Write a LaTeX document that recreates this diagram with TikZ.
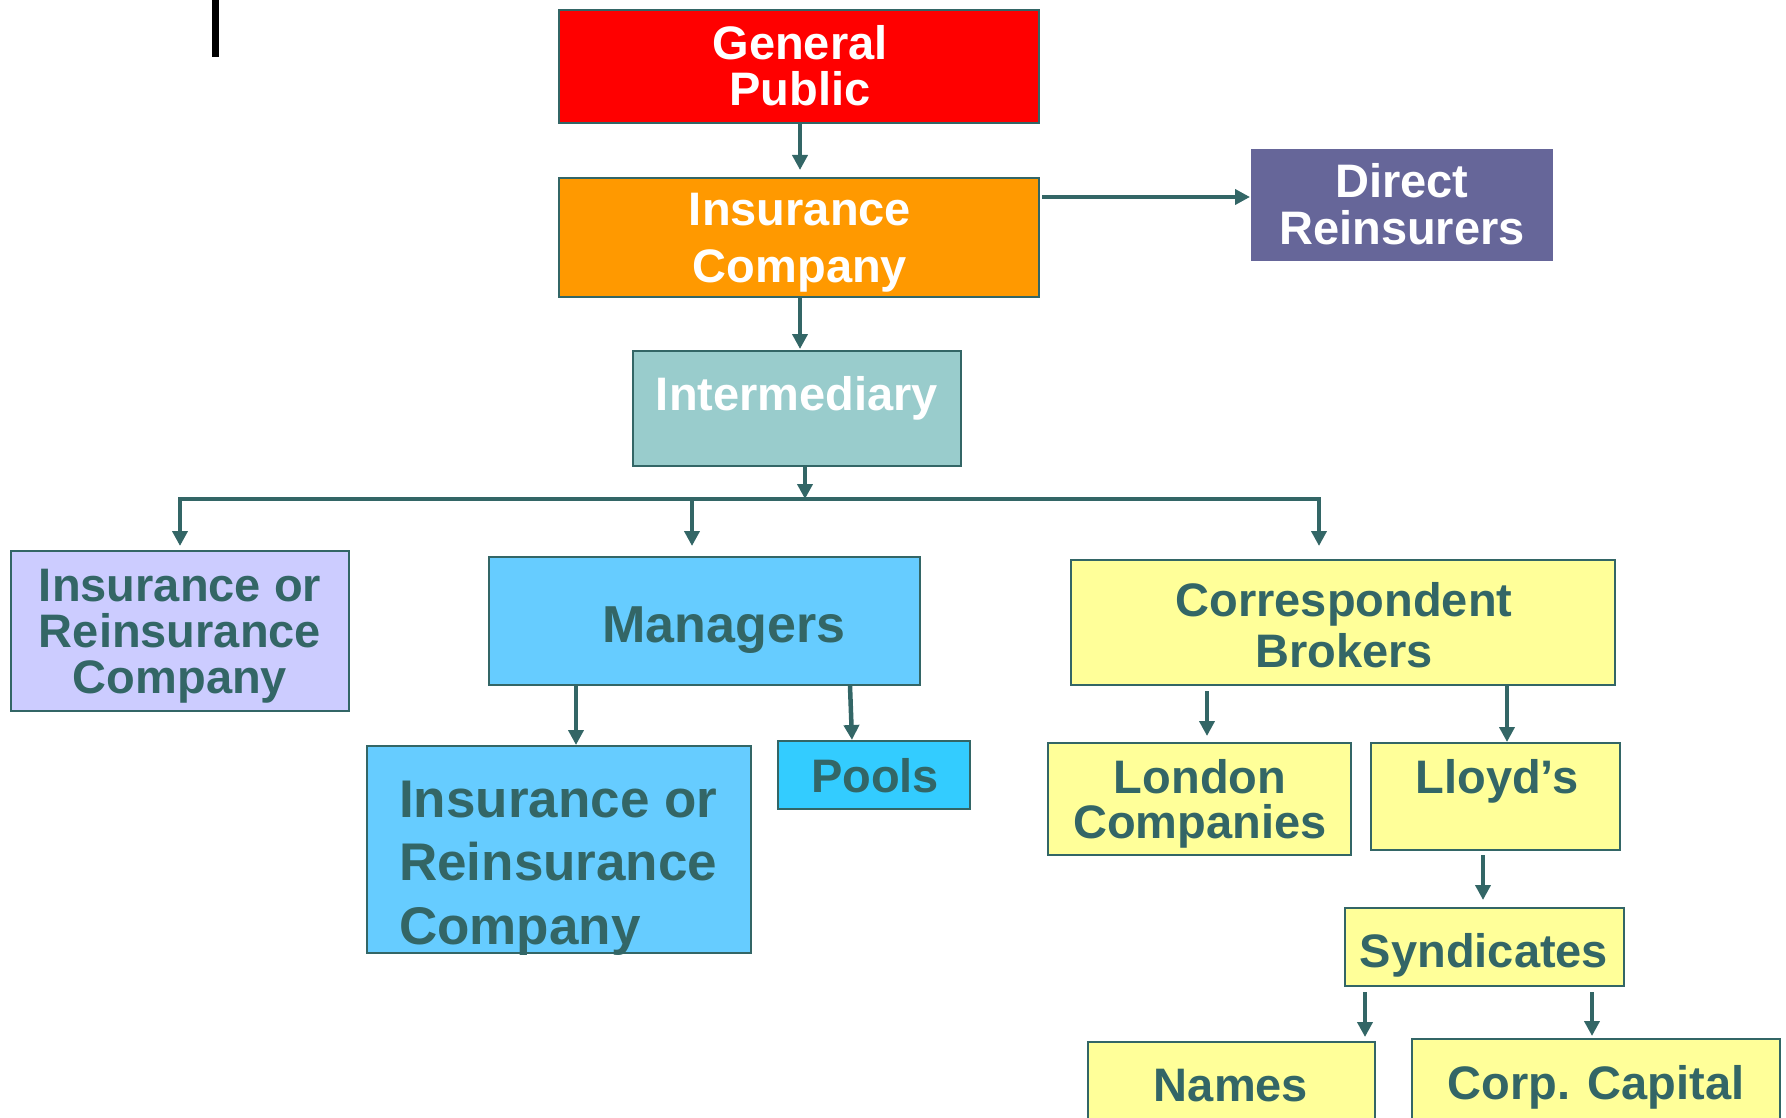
\documentclass[tikz,border=0pt]{standalone}
\usepackage{fontspec}
\setmainfont{Liberation Sans}
\usetikzlibrary{arrows.meta}
\definecolor{tealc}{HTML}{336666}
\definecolor{gpred}{HTML}{FF0000}
\definecolor{icorange}{HTML}{FF9900}
\definecolor{drpurple}{HTML}{666699}
\definecolor{imteal}{HTML}{99CCCC}
\definecolor{lclav}{HTML}{CCCCFF}
\definecolor{mgblue}{HTML}{66CCFF}
\definecolor{plblue}{HTML}{33CCFF}
\definecolor{yel}{HTML}{FFFF99}
\tikzset{
  box/.style={draw=tealc, line width=2pt, inner sep=0pt, rectangle},
  txt/.style={inner sep=0pt, align=center, anchor=base, text=tealc},
  wtxt/.style={txt, text=white},
  fs/.style={font=\fontsize{47pt}{#1}\selectfont\bfseries},
  arr/.style={draw=tealc, line width=4.5pt, -{Triangle[width=15pt,length=15pt]}},
  bus/.style={draw=tealc, line width=4.5pt},
}
\begin{document}
\begin{tikzpicture}[x=1pt,y=-1pt]
\useasboundingbox (0,0) rectangle (1786,1118);
% stray black bar
\fill[black] (212,0) rectangle (219,57);
% boxes
\node[box, fill=gpred, minimum width=480pt, minimum height=113pt] (gp) at (799,66.5) {};
\node[box, fill=icorange, minimum width=480pt, minimum height=119pt] (ic) at (799,237.5) {};
\node[box, draw=none, fill=drpurple, minimum width=302pt, minimum height=112pt] (dr) at (1402,205) {};
\node[box, fill=imteal, minimum width=328pt, minimum height=115pt] (im) at (797,408.5) {};
\node[box, fill=lclav, minimum width=338pt, minimum height=160pt] (lc) at (180,631) {};
\node[box, fill=mgblue, minimum width=431pt, minimum height=128pt] (mg) at (704.5,621) {};
\node[box, fill=yel, minimum width=544pt, minimum height=125pt] (cb) at (1343,622.5) {};
\node[box, fill=mgblue, minimum width=384pt, minimum height=207pt] (rc) at (559,849.5) {};
\node[box, fill=plblue, minimum width=192pt, minimum height=68pt] (pl) at (874,775) {};
\node[box, fill=yel, minimum width=303pt, minimum height=112pt] (lo) at (1199.5,799) {};
\node[box, fill=yel, minimum width=249pt, minimum height=107pt] (ll) at (1495.5,796.5) {};
\node[box, fill=yel, minimum width=279pt, minimum height=78pt] (sy) at (1484.5,947) {};
\node[box, fill=yel, minimum width=287pt, minimum height=88pt] (nm) at (1231.5,1086) {};
\node[box, fill=yel, minimum width=368pt, minimum height=91pt] (cc) at (1596,1084.5) {};
% texts (base anchor = baseline of last line)
\node[wtxt, fs=46pt] (gpt) at (800,106) {General\\Public};
\node[wtxt, fs=58pt] (ict) at (800,283) {Insurance\\Company};
\node[wtxt, fs=47pt] (drt) at (1402,244) {Direct\\Reinsurers};
\node[wtxt, fs=47pt] (imt) at (797,410) {Intermediary};
\node[txt, fs=46pt] (lct) at (180,693) {Insurance or\\Reinsurance\\Company};
\node[txt, font=\fontsize{52pt}{60pt}\selectfont\bfseries] (mgt) at (724,642) {Managers};
\node[txt, fs=51pt] (cbt) at (1344,667) {Correspondent\\Brokers};
\node[txt, anchor=base west, align=left, font=\fontsize{53pt}{63.5pt}\selectfont\bfseries] (rct) at (399,944) {Insurance or\\Reinsurance\\Company};
\node[txt, fs=47pt] (plt) at (875,792) {Pools};
\node[txt, fs=45pt] (lot) at (1200,838) {London\\Companies};
\node[txt, fs=47pt] (llt) at (1497,793) {Lloyd’s};
\node[txt, fs=47pt] (syt) at (1484,967) {Syndicates};
\node[txt, fs=47pt] (nmt) at (1231,1101) {Names};
\node[txt, fs=47pt] (cct) at (1596,1099) {Corp. Capital};
% connectors
\coordinate (busL) at (180,499);
\coordinate (busM) at (692,499);
\coordinate (busR) at (1319,499);
\coordinate (icR) at (1042,197);
\draw[arr, shorten >=7pt] ([xshift=1pt]gp.south) -- ([xshift=1pt]ic.north);
\draw[arr] (icR) -- (icR -| dr.west);
\draw[arr, shorten >=1pt] ([xshift=1pt]ic.south) -- ([xshift=3pt]im.north);
\draw[arr] ([xshift=8pt]im.south) -- ([xshift=8pt]im.south |- busL);
\draw[bus] (busL) -- (busR);
\draw[arr, shorten >=4pt] ([yshift=2pt]busL) -- (busL |- lc.north);
\draw[arr, shorten >=10pt] ([yshift=2pt]busM) -- (busM |- mg.north);
\draw[arr, shorten >=13pt] ([yshift=2pt]busR) -- (busR |- cb.north);
\draw[arr] ([xshift=-128.5pt]mg.south) -- ([xshift=-128.5pt]mg.south |- rc.north);
\draw[arr] ([xshift=145.5pt]mg.south) -- ([xshift=-22pt]pl.north);
\draw[arr, shorten >=6pt] ([xshift=-136pt,yshift=-5pt]cb.south) -- ([xshift=-136pt]cb.south |- lo.north);
\draw[arr] ([xshift=164pt]cb.south) -- ([xshift=164pt]cb.south |- ll.north);
\draw[arr, shorten >=7pt] ([xshift=-12.5pt,yshift=-4pt]ll.south) -- ([xshift=-12.5pt]ll.south |- sy.north);
\draw[arr, shorten >=4pt] ([xshift=-119.5pt,yshift=-5pt]sy.south) -- ([xshift=-119.5pt]sy.south |- nm.north);
\draw[arr, shorten >=2pt] ([xshift=107.5pt,yshift=-5pt]sy.south) -- ([xshift=107.5pt]sy.south |- cc.north);
\end{tikzpicture}
\end{document}
